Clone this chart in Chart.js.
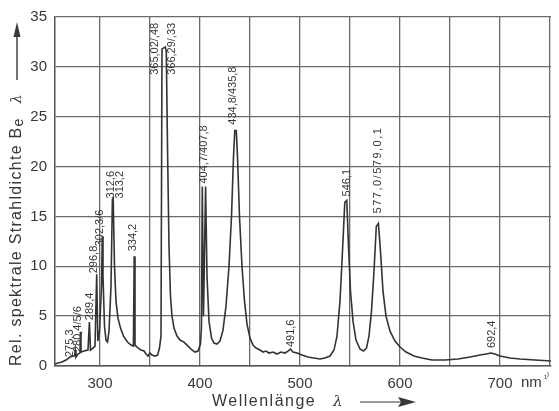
<!DOCTYPE html>
<html>
<head>
<meta charset="utf-8">
<script src="https://cdn.jsdelivr.net/npm/chart.js@4"></script>
<style>
    html, body { margin: 0; padding: 0; background: #fff; }
    #wrap { width: 559px; height: 411px; }
</style>
</head>
<body>
<div id="wrap"><canvas id="chart"></canvas></div>
<script>
// spectrum: wavelength in nm, relative radiance
const wavelengths = [
    255, 258, 262, 266, 270, 273, 274.6, 275.3, 276, 278, 280, 280.4, 281, 284, 288, 289.4, 290.5,
    293, 295, 296.7, 297.8, 299.5, 301.5, 302.3, 303, 304.5, 306, 307.5, 309, 311, 312.4, 313.2,
    314.5, 316, 318, 320.5, 323.5, 327.5, 331, 333.4, 334.2, 335, 337, 341, 344, 346, 348, 350,
    352, 355, 357.5, 359.5, 361, 362, 365.4, 366.3, 367.5, 369, 370.5, 372, 374, 377, 380, 384,
    387, 391, 395, 398, 400.5, 401.5, 402.3, 403.5, 405.6, 407, 409, 411.5, 414, 417, 420, 423,
    426, 429, 431.5, 433.5, 434.8, 436.3, 437.5, 439.5, 442, 444.5, 447, 450, 453, 456, 460, 463,
    466, 469, 473, 477, 481, 485, 488, 490.5, 493, 497, 502, 508, 514, 520, 525, 530, 534, 537,
    540, 542.5, 544.8, 546.8, 548.5, 550.5, 553, 556, 560, 563.5, 566.5, 569, 571.5, 574, 576.3,
    578.4, 580.5, 583, 586, 590, 595, 600, 606, 614, 622, 632, 645, 658, 670, 680, 686, 691, 695,
    700, 710, 720, 735, 751
];
const intensities = [
    0.2, 0.3, 0.4, 0.6, 0.9, 1.0, 1.0, 1.6, 0.9, 1.2, 1.3, 3.4, 1.4, 1.5, 1.6, 4.4, 1.6,
    1.8, 2.0, 9.2, 2.5, 3.5, 8.0, 13.0, 9.0, 4.0, 2.6, 2.4, 3.5, 8.0, 16.7, 16.8,
    10.0, 6.5, 4.8, 3.8, 3.0, 2.4, 2.1, 2.0, 11.0, 2.1, 1.9, 1.6, 1.5, 1.2, 1.0, 1.3,
    1.1, 1.0, 1.1, 1.8, 3.0, 31.8, 32.0, 31.5, 22.0, 12.0, 7.0, 5.0, 3.8, 3.0, 2.6, 2.4,
    2.1, 1.7, 1.4, 1.5, 2.2, 4.0, 18.0, 5.0, 18.0, 9.0, 4.5, 2.8, 2.3, 2.2, 2.5, 3.6,
    6.0, 10.0, 15.0, 21.0, 23.6, 23.6, 21.0, 15.0, 10.0, 6.5, 4.2, 2.8, 2.1, 1.8, 1.6, 1.4,
    1.5, 1.3, 1.4, 1.2, 1.4, 1.3, 1.5, 1.7, 1.4, 1.3, 1.1, 0.9, 0.8, 0.7, 0.8, 1.0, 1.6, 3.0,
    6.5, 11.5, 16.4, 16.6, 12.0, 7.5, 4.5, 2.6, 1.7, 1.5, 1.8, 3.0, 5.5, 9.5, 14.0,
    14.3, 11.5, 7.5, 5.0, 3.5, 2.5, 1.9, 1.4, 1.0, 0.8, 0.6, 0.6, 0.7, 0.9, 1.1, 1.2, 1.3, 1.2,
    1.0, 0.8, 0.7, 0.6, 0.5
];

const xGridValues = [300, 350, 400, 450, 500, 550, 600, 650, 700, 750];
const xTickLabels = { 300: '300', 400: '400', 500: '500', 600: '600', 700: '700' };
const yTickStep = 5;

// line labels: text, wavelength of label centre, value at the foot of the text
const peakLabels = ['275,3', '280,4/5/6', '289,4', '296,8', '302,3/6', '312,6', '313,2', '334,2',
    '365,02/,48', '366,29/,33', '404,7/407,8', '434,8/435,8', '491,6', '546,1', '577,0/579,0,1', '692,4'];
const peakLabelX = [270, 278, 290, 294, 300, 310.8, 319.7, 332.7,
    354.6, 371.5, 404.4, 433.3, 491, 546.8, 577.7, 692.3];
const peakLabelY = [0.9, 1.4, 4.6, 9.3, 12.0, 16.8, 16.8, 11.5,
    29.2, 29.2, 18.3, 24.2, 1.9, 17.0, 15.3, 1.8];

const textColor = '#383838';
const gridColor = '#6a6a6a';

const annotPlugin = {
    id: 'annot',
    afterDatasetsDraw(chart) {
        const { ctx, scales: { x, y } } = chart;
        ctx.save();
        ctx.fillStyle = textColor;
        ctx.strokeStyle = textColor;

        // rotated line labels
        ctx.font = '11px "Liberation Sans", Arial, sans-serif';
        ctx.textAlign = 'left';
        ctx.textBaseline = 'middle';
        peakLabels.forEach((t, i) => {
            ctx.save();
            ctx.translate(x.getPixelForValue(peakLabelX[i]), y.getPixelForValue(peakLabelY[i]));
            ctx.rotate(-Math.PI / 2);
            ctx.letterSpacing = t.length > 11 ? '1.5px' : '0px';
            ctx.fillText(t, 0, 0);
            ctx.restore();
        });

        // "nm 1)" next to 700
        const p700 = x.getPixelForValue(700);
        ctx.font = '15px "Liberation Sans", Arial, sans-serif';
        ctx.textBaseline = 'middle';
        ctx.fillText('nm', p700 + 21, 383);
        ctx.font = '10px "Liberation Sans", Arial, sans-serif';
        ctx.fillText('¹⁾', p700 + 44, 378);

        // x title
        ctx.font = '16px "Liberation Sans", Arial, sans-serif';
        ctx.letterSpacing = '1.5px';
        ctx.fillText('Wellenlänge', 212, 402);
        ctx.letterSpacing = '0px';
        ctx.font = 'italic 15px "DejaVu Serif", serif';
        ctx.fillText('λ', 333, 402);
        ctx.lineWidth = 1.2;
        ctx.beginPath();
        ctx.moveTo(360, 402);
        ctx.lineTo(402, 402);
        ctx.stroke();
        ctx.beginPath();
        ctx.moveTo(416, 402);
        ctx.lineTo(398, 397);
        ctx.lineTo(401, 402);
        ctx.lineTo(398, 407);
        ctx.closePath();
        ctx.fill();

        // y title, rotated
        ctx.save();
        ctx.translate(17, 366);
        ctx.rotate(-Math.PI / 2);
        ctx.font = '16px "Liberation Sans", Arial, sans-serif';
        ctx.letterSpacing = '1.3px';
        const main = 'Rel. spektrale Strahldichte B';
        ctx.fillText(main, 0, 0);
        let w = ctx.measureText(main).width;
        ctx.font = '14px "Liberation Sans", Arial, sans-serif';
        ctx.fillText('e', w, 2);
        w += ctx.measureText('e').width + 14;
        ctx.letterSpacing = '0px';
        ctx.font = 'italic 14px "DejaVu Serif", serif';
        ctx.fillText('λ', w, 0);
        ctx.restore();

        // y arrow
        ctx.lineWidth = 1.4;
        ctx.beginPath();
        ctx.moveTo(17, 80);
        ctx.lineTo(17, 34);
        ctx.stroke();
        ctx.beginPath();
        ctx.moveTo(17, 22);
        ctx.lineTo(13.5, 37);
        ctx.lineTo(20.5, 37);
        ctx.closePath();
        ctx.fill();

        ctx.restore();
    }
};

new Chart(document.getElementById('chart').getContext('2d'), {
    type: 'line',
    data: {
        datasets: [{
            data: wavelengths.map((w, i) => ({ x: w, y: intensities[i] })),
            borderColor: '#333',
            borderWidth: 1.6,
            pointRadius: 0,
            tension: 0,
            fill: false
        }]
    },
    options: {
        responsive: true,
        maintainAspectRatio: false,
        animation: false,
        events: [],
        layout: { padding: { top: 13, right: 6, left: 0, bottom: 0 } },
        plugins: { legend: { display: false }, tooltip: { enabled: false } },
        scales: {
            x: {
                type: 'linear',
                min: 255,
                max: 751,
                afterBuildTicks: (s) => { s.ticks = xGridValues.map(v => ({ value: v })); },
                afterFit: (s) => { s.height = 45; },
                grid: { color: gridColor, lineWidth: 1.3, drawTicks: false },
                border: { color: '#555', width: 1.5 },
                ticks: {
                    autoSkip: false,
                    maxRotation: 0,
                    padding: 9,
                    color: textColor,
                    font: { family: '"Liberation Sans", Arial, sans-serif', size: 15 },
                    callback: (v) => xTickLabels[v] || ''
                }
            },
            y: {
                min: 0,
                max: 35,
                afterFit: (s) => { s.width = 55; },
                grid: { color: gridColor, lineWidth: 1.3, drawTicks: false },
                border: { color: '#555', width: 1.5 },
                ticks: {
                    stepSize: yTickStep,
                    padding: 8,
                    color: textColor,
                    font: { family: '"Liberation Sans", Arial, sans-serif', size: 15 }
                }
            }
        }
    },
    plugins: [annotPlugin]
});
</script>
</body>
</html>
